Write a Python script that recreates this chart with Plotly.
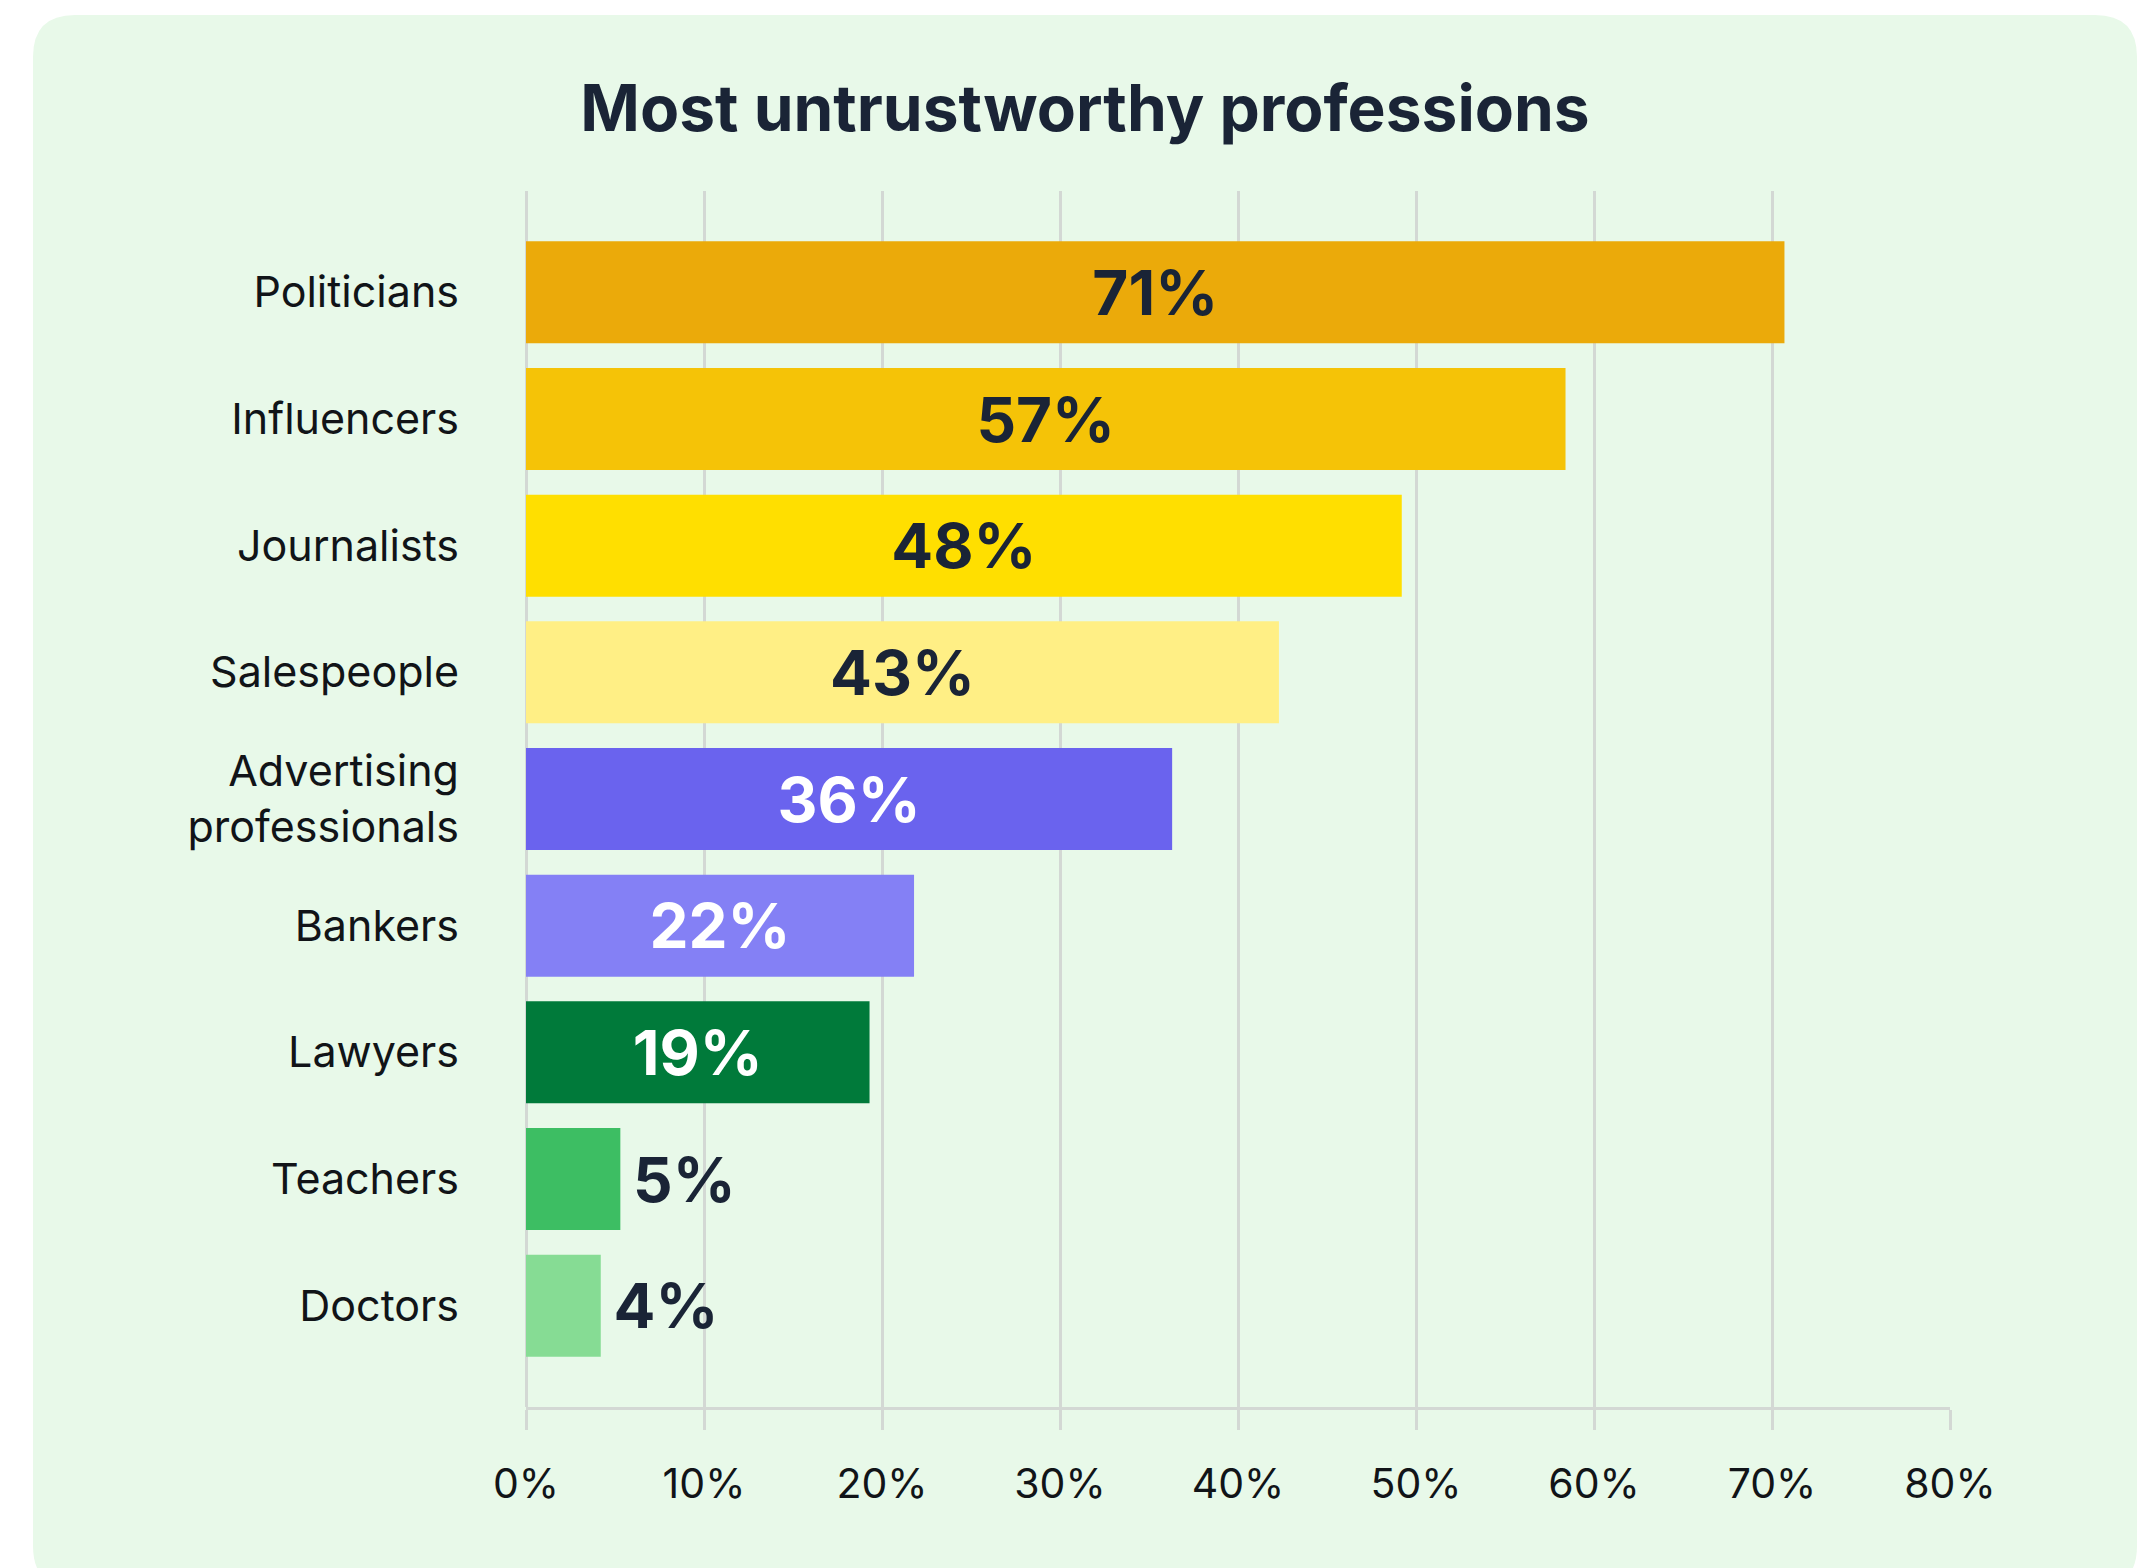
import plotly.graph_objects as go

# ---- data ----
categories = ["Politicians", "Influencers", "Journalists", "Salespeople",
              "Advertising<br>professionals", "Bankers", "Lawyers", "Teachers", "Doctors"]
bar_values = [70.7, 58.4, 49.2, 42.3, 36.3, 21.8, 19.3, 5.3, 4.2]
value_labels = ["71%", "57%", "48%", "43%", "36%", "22%", "19%", "5%", "4%"]
x_ticks = [0, 10, 20, 30, 40, 50, 60, 70, 80]
x_tick_labels = ["0%", "10%", "20%", "30%", "40%", "50%", "60%", "70%", "80%"]

# ---- styles ----
bar_colors = ["#EBAA0A", "#F5C307", "#FFDF00", "#FFEF85", "#6A63EE",
              "#8480F5", "#007A3A", "#3DBE63", "#86DC94"]
label_colors = ["#1A2436", "#1A2436", "#1A2436", "#1A2436", "#FFFFFF",
                "#FFFFFF", "#FFFFFF", "#1A2436", "#1A2436"]
label_positions = ["inside"] * 7 + ["outside"] * 2
display_text = [("\u2009" + t) if p == "outside" else t for t, p in zip(value_labels, label_positions)]

W, H = 2141, 1568
L, R, T, B = 526, 191, 191, 161
plot_w = W - L - R
plot_h = H - T - B
grid = "#D3D8D4"
card = "#E8F9E9"

fig = go.Figure(go.Bar(
    x=bar_values, y=categories, orientation="h",
    marker=dict(color=bar_colors, line=dict(width=0)),
    text=display_text, textposition=label_positions,
    insidetextanchor="middle", constraintext="none",
    textfont=dict(family="Inter", size=62, color=label_colors, weight="bold"),
    hoverinfo="skip", cliponaxis=False,
))

# rounded card background (pixel -> paper conversion)
def px(xp):
    return (xp - L) / plot_w

def py(yp):
    return (H - B - yp) / plot_h

cx0, cy0, cx1, cy1, r = 33, 15, 2137, 1588, 42
path = (
    f"M {px(cx0 + r)} {py(cy0)} "
    f"L {px(cx1 - r)} {py(cy0)} Q {px(cx1)} {py(cy0)} {px(cx1)} {py(cy0 + r)} "
    f"L {px(cx1)} {py(cy1 - r)} Q {px(cx1)} {py(cy1)} {px(cx1 - r)} {py(cy1)} "
    f"L {px(cx0 + r)} {py(cy1)} Q {px(cx0)} {py(cy1)} {px(cx0)} {py(cy1 - r)} "
    f"L {px(cx0)} {py(cy0 + r)} Q {px(cx0)} {py(cy0)} {px(cx0 + r)} {py(cy0)} Z"
)

fig.update_layout(
    width=W, height=H,
    margin=dict(l=L, r=R, t=T, b=B, pad=0),
    paper_bgcolor="#FFFFFF",
    plot_bgcolor="rgba(0,0,0,0)",
    showlegend=False,
    bargap=0.195,
    font=dict(family="Inter", color="#111418"),
    title=dict(text="<b>Most untrustworthy professions</b>",
               font=dict(family="Inter", size=64, color="#1A2436"),
               xref="container", x=1085 / W, xanchor="center",
               yref="container", y=1 - 109 / H, yanchor="middle"),
    shapes=[dict(type="path", path=path, xref="paper", yref="paper",
                 fillcolor=card, line=dict(width=0), layer="below")],
    xaxis=dict(range=[0, 80], tickvals=x_ticks, ticktext=x_tick_labels,
               showgrid=True, gridcolor=grid, gridwidth=3,
               zeroline=True, zerolinecolor=grid, zerolinewidth=3,
               showline=True, linecolor=grid, linewidth=3,
               ticks="outside", ticklen=20, tickwidth=3, tickcolor=grid,
               ticklabelstandoff=19,
               tickfont=dict(family="Inter", size=41, color="#111418"),
               fixedrange=True),
    yaxis=dict(range=[8.8, -0.8], showgrid=False, zeroline=False, showline=False,
               ticks="", ticklabelstandoff=66,
               tickfont=dict(family="Inter", size=43, color="#111418"),
               fixedrange=True),
)

fig.write_html("out.html")
